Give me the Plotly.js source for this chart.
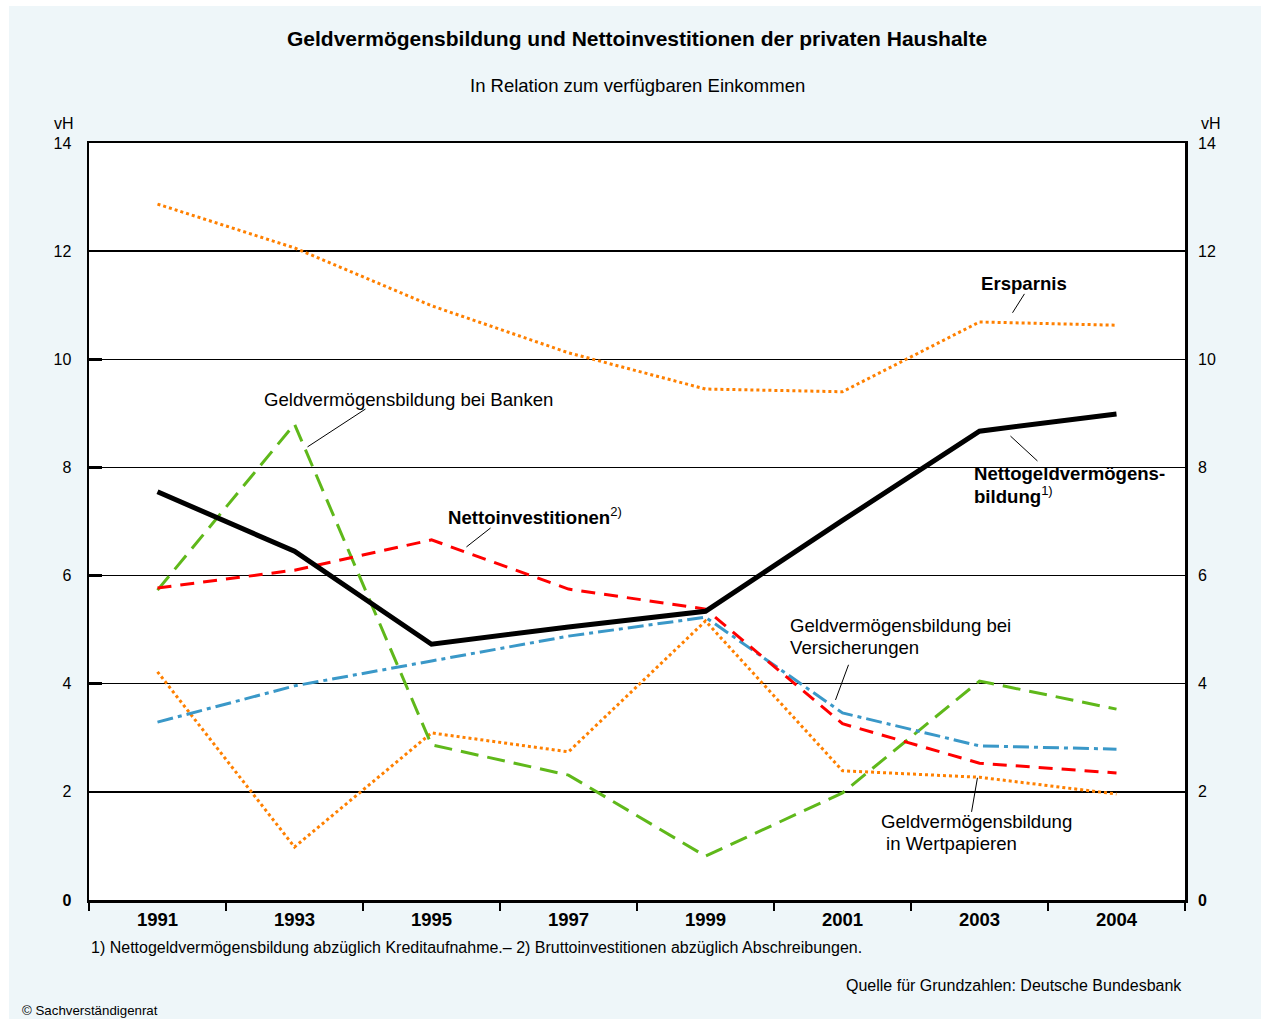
<!DOCTYPE html>
<html>
<head>
<meta charset="utf-8">
<script src="https://cdn.plot.ly/plotly-3.0.1.min.js"></script>
<style>
html,body{margin:0;padding:0;background:#ffffff;}
#chart{position:absolute;left:9px;top:6px;width:1252px;height:1013px;}
</style>
</head>
<body>
<div id="chart"></div>
<script>
// ---- data (vH, in Relation zum verfügbaren Einkommen) ----
const years = ["1991","1993","1995","1997","1999","2001","2003","2004"];
const ersparnis = [12.87, 12.06, 10.99, 10.12, 9.45, 9.40, 10.69, 10.63];
const nettogeld = [7.55, 6.45, 4.73, 5.05, 5.34, 7.02, 8.67, 8.99];
const banken = [5.73, 8.80, 2.87, 2.31, 0.81, 1.98, 4.05, 3.53];
const nettoinvest = [5.77, 6.10, 6.66, 5.75, 5.38, 3.26, 2.53, 2.35];
const versicherungen = [3.29, 3.96, 4.42, 4.88, 5.23, 3.46, 2.85, 2.79];
const wertpapiere = [4.22, 0.98, 3.09, 2.74, 5.16, 2.39, 2.27, 1.96];
const yTickVals = [0, 2, 4, 6, 8, 10, 12, 14];
const yTickText = ["<b>0</b>", "2", "4", "6", "8", "10", "12", "14"];

const FONT = "Liberation Sans, Arial, Helvetica, sans-serif";
const ORANGE = "#FF8000", GREEN = "#5FB81A", RED = "#FF0000", BLUE = "#3A98C8";
const LBL = 18.6;

function tr(y, color, width, dash, yaxis) {
  return {x: years, y: y, type: "scatter", mode: "lines",
    line: {color: color, width: width, dash: dash}, hoverinfo: "skip", yaxis: yaxis || "y"};
}

const data = [
  tr(ersparnis, ORANGE, 3, "3px,3px"),
  tr(wertpapiere, ORANGE, 3, "3px,3px"),
  tr(banken, GREEN, 3, "18px,9px"),
  tr(versicherungen, BLUE, 3, "16px,5px,4px,5px"),
  tr(nettoinvest, RED, 3, "14px,9px"),
  tr(nettogeld, "#000000", 5, "solid"),
  // invisible trace to activate right axis
  {x: years, y: nettogeld, type: "scatter", mode: "lines", line: {width: 0}, yaxis: "y2", hoverinfo: "skip", showlegend: false, opacity: 0}
];

function leader(x0, y0, x1, y1) {
  return {type: "line", xref: "x", yref: "y", x0: x0, y0: y0, x1: x1, y1: y1,
    line: {color: "#000000", width: 1}};
}
function lab(text, x, y) {
  return {text: text, x: x, y: y, xref: "x", yref: "y", xanchor: "left", yanchor: "middle",
    align: "left", showarrow: false, font: {family: FONT, size: LBL, color: "#000000"}};
}
function pap(text, x, y, size, xanchor, bold) {
  return {text: bold ? "<b>" + text + "</b>" : text, x: x, y: y, xref: "paper", yref: "paper",
    xanchor: xanchor, yanchor: "middle", showarrow: false,
    font: {family: FONT, size: size, color: "#000000"}};
}
// pixel-row -> value helper for two-line labels (value axis: 0..14 over 757px)
const PXV = 14 / 757;

const layout = {
  width: 1252, height: 1013,
  paper_bgcolor: "#EEF6F9", plot_bgcolor: "#FFFFFF",
  margin: {l: 80, r: 76, t: 137, b: 119},
  showlegend: false,
  font: {family: FONT, color: "#000000"},
  xaxis: {
    type: "category", range: [-0.5, 7.5], tickson: "boundaries",
    ticks: "outside", ticklen: 8, tickwidth: 1.5, tickcolor: "#000000",
    showline: true, mirror: true, linewidth: 2.5, linecolor: "#000000",
    showgrid: false, zeroline: false, fixedrange: true,
    tickfont: {family: FONT, size: 18.5, color: "#000000", weight: "bold"},
    ticklabelstandoff: 1
  },
  yaxis: {
    range: [0, 14], tickvals: yTickVals, ticktext: yTickText,
    ticks: "inside", ticklen: 13, tickwidth: 2.5, tickcolor: "#000000",
    showline: true, mirror: true, linewidth: 2.5, linecolor: "#000000",
    showgrid: true, gridcolor: "#000000", gridwidth: 1.5, zeroline: false,
    tickfont: {family: FONT, size: 16, color: "#000000"},
    ticklabelstandoff: 12, fixedrange: true
  },
  yaxis2: {
    overlaying: "y", side: "right", range: [0, 14], tickvals: yTickVals, ticktext: yTickText,
    ticks: "inside", ticklen: 5, tickwidth: 1.5, tickcolor: "#000000",
    showline: false, showgrid: false, zeroline: false,
    tickfont: {family: FONT, size: 16, color: "#000000"},
    ticklabelstandoff: 12, fixedrange: true
  },
  shapes: [
    leader(1.518, 9.08, 1.095, 8.38),
    leader(2.431, 6.88, 2.255, 6.53),
    leader(6.328, 11.21, 6.241, 10.86),
    leader(6.226, 8.58, 6.423, 8.12),
    leader(5.044, 4.35, 4.949, 3.70),
    leader(5.985, 2.26, 5.942, 1.63)
  ],
  annotations: [
    lab("Geldvermögensbildung bei Banken", 0.766, 9.25),
    lab("<b>Nettoinvestitionen</b><sup>2)</sup>", 2.109, 7.10),
    lab("<b>Ersparnis</b>", 5.993, 11.41),
    lab("<b>Nettogeldvermögens-</b>", 5.942, (900 - 473) * PXV),
    lab("<b>bildung</b><sup>1)</sup>", 5.942, (900 - 495) * PXV),
    lab("Geldvermögensbildung bei", 4.599, (900 - 625) * PXV),
    lab("Versicherungen", 4.599, (900 - 647) * PXV),
    lab("Geldvermögensbildung", 5.270, (900 - 821) * PXV),
    lab("in Wertpapieren", 5.305, (900 - 843) * PXV),
    pap("Geldvermögensbildung und Nettoinvestitionen der privaten Haushalte", 0.5, 1.1387, 21, "center", true),
    pap("In Relation zum verfügbaren Einkommen", 0.5, 1.0753, 18.5, "center", false),
    pap("vH", -0.0119, 1.0251, 16, "right", false),
    pap("vH", 1.0128, 1.0251, 16, "left", false),
    pap("1) Nettogeldvermögensbildung abzüglich Kreditaufnahme.– 2) Bruttoinvestitionen abzüglich Abschreibungen.", 0, -0.0634, 16, "left", false),
    pap("Quelle für Grundzahlen: Deutsche Bundesbank", 0.9991, -0.1136, 16, "right", false),
    pap("© Sachverständigenrat", -0.063, -0.1466, 13.3, "left", false)
  ]
};

Plotly.newPlot("chart", data, layout, {displayModeBar: false, staticPlot: true});
</script>
</body>
</html>
